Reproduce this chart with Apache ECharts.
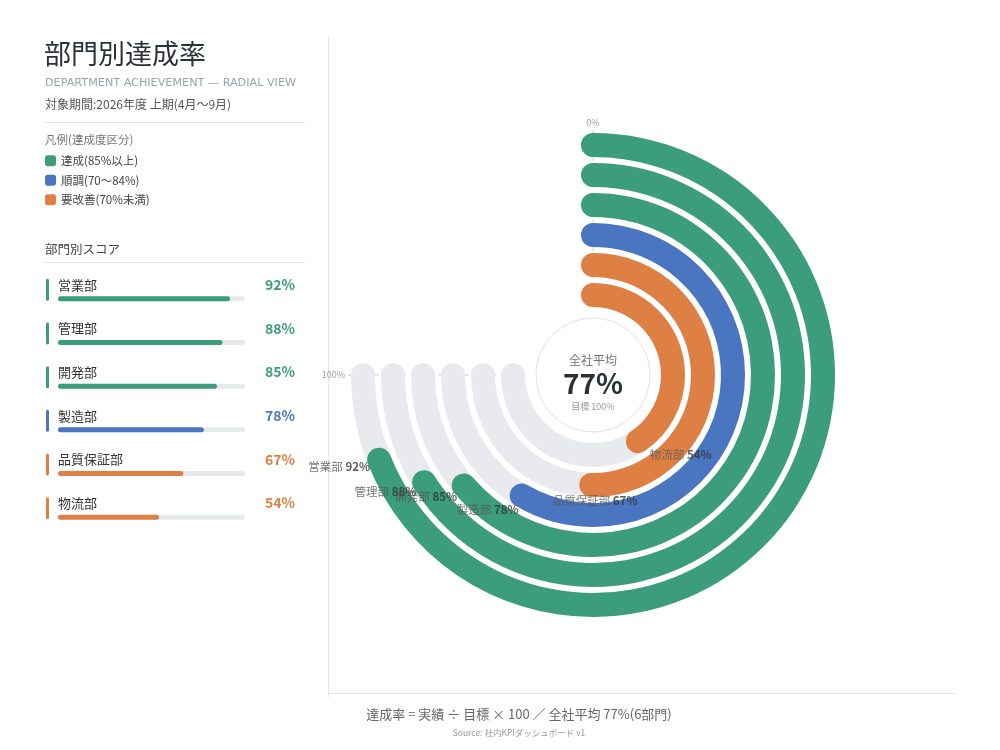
<!DOCTYPE html>
<html>
<head>
<meta charset="utf-8">
<script src="https://cdn.jsdelivr.net/npm/echarts@6/dist/echarts.min.js"></script>
<style>
html,body{margin:0;padding:0;background:#fff;}
#c{width:1000px;height:750px;}
</style>
</head>
<body>
<div id="c"></div>
<script>
// ---- data ----
const DEPTS = ['営業部', '管理部', '開発部', '製造部', '品質保証部', '物流部'];
const SCORES = [92, 88, 85, 78, 67, 54];
const TARGET = [100, 100, 100, 100, 100, 100];
const STATUS_NAMES = ['達成(85%以上)', '順調(70〜84%)', '要改善(70%未満)'];
const STATUS_MIN = [85, 70, 0];
const ANGLE_TICKS = [0, 100];

const COLORS = ['#3b9d7b', '#4a75c1', '#de8044'];
const TRACK = '#e8eaed';
const FONT = '"Noto Sans CJK JP", "Noto Sans", sans-serif';

function statusOf(v) { for (let k = 0; k < STATUS_MIN.length; k++) if (v >= STATUS_MIN[k]) return k; return 2; }
const avg = Math.round(SCORES.reduce((a, b) => a + b, 0) / SCORES.length);

const chart = echarts.init(document.getElementById('c'), null, { renderer: 'canvas' });

const CX = 593, CY = 375;
const ANGLE_MAX = 100 / 0.75;   // 100% spans 270 degrees

// label placed just outside the bar end, pushed outward along the radius
function endLabel(v) {
  const phi = v / ANGLE_MAX * 2 * Math.PI;    // clockwise from 12 o'clock
  const rx = Math.sin(phi), ry = -Math.cos(phi);
  const align = rx < -0.25 ? 'right' : (rx > 0.25 ? 'left' : 'center');
  return {
    show: true,
    position: [14 * rx + 4, 15 * ry + 1],
    align: align,
    verticalAlign: 'middle'
  };
}

const statusSeries = STATUS_NAMES.map((nm, k) => ({
  name: nm,
  type: 'bar',
  coordinateSystem: 'polar',
  polarIndex: 0,
  roundCap: true,
  barGap: '-100%',
  barCategoryGap: '20%',
  itemStyle: { color: COLORS[k] },
  z: 3,
  data: SCORES.map((v, i) => statusOf(v) === k ? v : '-')
}));

const option = {
  backgroundColor: '#ffffff',
  textStyle: { fontFamily: FONT },
  animation: false,
  legend: {
    data: STATUS_NAMES,
    orient: 'vertical',
    left: 40,
    top: 150,
    itemWidth: 11,
    itemHeight: 11,
    itemGap: 8,
    icon: 'roundRect',
    selectedMode: false,
    textStyle: { fontSize: 11.5, color: '#444', fontFamily: FONT }
  },
  polar: { center: [CX, CY], radius: [65, 245] },
  angleAxis: {
    type: 'value',
    min: 0,
    max: ANGLE_MAX,
    interval: 100,
    startAngle: 90,
    clockwise: true,
    axisLine: { show: false },
    axisTick: { show: false },
    axisLabel: {
      margin: 3,
      color: '#9aa2ad',
      fontSize: 9,
      formatter: v => ANGLE_TICKS.indexOf(Math.round(v)) >= 0 && Math.abs(v - Math.round(v)) < 1e-6 ? v + '%' : ''
    },
    splitLine: { show: true, lineStyle: { color: '#c9ced5', type: [4, 5], width: 1 } }
  },
  radiusAxis: {
    type: 'category',
    data: DEPTS,
    inverse: true,
    axisLine: { show: false },
    axisTick: { show: false },
    axisLabel: { show: false },
    splitLine: { show: false }
  },
  grid: { left: 58, top: 277, width: 187, height: 262 },
  xAxis: { type: 'value', min: 0, max: 100, show: false, gridIndex: 0 },
  yAxis: {
    type: 'category',
    data: DEPTS,
    inverse: true,
    gridIndex: 0,
    axisLine: { show: false },
    axisTick: { show: false },
    splitLine: { show: false },
    axisLabel: {
      margin: 9,
      formatter: (v, i) => '{s' + statusOf(SCORES[i]) + '|}',
      rich: {
        s0: { width: 3, height: 22, backgroundColor: COLORS[0], borderRadius: 1.5 },
        s1: { width: 3, height: 22, backgroundColor: COLORS[1], borderRadius: 1.5 },
        s2: { width: 3, height: 22, backgroundColor: COLORS[2], borderRadius: 1.5 }
      },
      padding: [0, 0, 18, 0]
    }
  },
  series: [
    {
      name: '目標',
      type: 'bar',
      coordinateSystem: 'polar',
      roundCap: true,
      barGap: '-100%',
      barCategoryGap: '20%',
      silent: true,
      itemStyle: { color: TRACK },
      z: 2,
      data: TARGET
    },
    ...statusSeries,
    {
      name: 'labels',
      type: 'scatter',
      coordinateSystem: 'polar',
      symbolSize: 0,
      silent: true,
      z: 6,
      label: {
        show: true,
        formatter: p => '{n|' + p.name + '} {v|' + p.value[1] + '%}',
        rich: {
          n: { fontSize: 11.5, color: '#555', fontFamily: FONT },
          v: { fontSize: 11.5, color: '#333', fontWeight: 'bold', fontFamily: FONT }
        }
      },
      data: DEPTS.map((d, i) => ({ name: d, value: [d, SCORES[i]], label: endLabel(SCORES[i]) }))
    },
    {
      name: 'track',
      type: 'bar',
      xAxisIndex: 0,
      yAxisIndex: 0,
      barWidth: 5,
      barGap: '-100%',
      silent: true,
      itemStyle: { color: '#e6e9ed', borderRadius: 3 },
      label: {
        show: true,
        position: [237, -11.5],
        align: 'right',
        verticalAlign: 'middle',
        formatter: p => '{s' + statusOf(SCORES[p.dataIndex]) + '|' + SCORES[p.dataIndex] + '%}',
        rich: {
          s0: { color: COLORS[0], fontSize: 14, fontWeight: 'bold', fontFamily: FONT },
          s1: { color: COLORS[1], fontSize: 14, fontWeight: 'bold', fontFamily: FONT },
          s2: { color: COLORS[2], fontSize: 14, fontWeight: 'bold', fontFamily: FONT }
        }
      },
      data: TARGET
    },
    {
      name: 'score',
      type: 'bar',
      xAxisIndex: 0,
      yAxisIndex: 0,
      barWidth: 5,
      barGap: '-100%',
      silent: true,
      itemStyle: { borderRadius: 3, color: p => COLORS[statusOf(p.value)] },
      label: {
        show: true,
        position: [0, -11.5],
        align: 'left',
        verticalAlign: 'middle',
        formatter: p => p.name,
        fontSize: 13,
        color: '#333',
        fontFamily: FONT
      },
      data: SCORES
    }
  ],
  graphic: [
    { type: 'text', left: 44, top: 40, style: { text: '部門別達成率', fontSize: 27, fill: '#2b313b', fontFamily: FONT } },
    { type: 'text', left: 45, top: 78, style: { text: 'DEPARTMENT ACHIEVEMENT — RADIAL VIEW', fontSize: 11.2, fill: '#9ba3ae', fontFamily: '"DejaVu Sans", sans-serif' } },
    { type: 'text', left: 45, top: 98, style: { text: '対象期間:2026年度 上期(4月〜9月)', fontSize: 12, fill: '#555', fontFamily: FONT } },
    { type: 'line', shape: { x1: 45, y1: 122.5, x2: 305, y2: 122.5 }, style: { stroke: '#e0e2e6', lineWidth: 1 } },
    { type: 'text', left: 45, top: 134, style: { text: '凡例(達成度区分)', fontSize: 11.5, fill: '#777', fontFamily: FONT } },
    { type: 'text', left: 45, top: 243, style: { text: '部門別スコア', fontSize: 12.5, fill: '#444', fontFamily: FONT } },
    { type: 'line', shape: { x1: 45, y1: 262.5, x2: 305, y2: 262.5 }, style: { stroke: '#e0e2e6', lineWidth: 1 } },
    { type: 'line', shape: { x1: 328.5, y1: 36, x2: 328.5, y2: 697 }, style: { stroke: '#e3e5e8', lineWidth: 1 } },
    { type: 'line', shape: { x1: 329, y1: 693.5, x2: 955, y2: 693.5 }, style: { stroke: '#e3e5e8', lineWidth: 1 } },
    { type: 'circle', shape: { cx: CX, cy: CY, r: 57 }, style: { fill: '#fff', stroke: '#dfe2e6', lineWidth: 1 }, z: 10 },
    { type: 'text', x: CX, y: 360, z: 11, style: { text: '全社平均', fontSize: 12, fill: '#777', align: 'center', verticalAlign: 'middle', fontFamily: FONT } },
    { type: 'text', x: CX, y: 383, z: 11, style: { text: avg + '%', fontSize: 28, fontWeight: 'bold', fill: '#2b2f36', align: 'center', verticalAlign: 'middle', fontFamily: FONT } },
    { type: 'text', x: CX, y: 407, z: 11, style: { text: '目標 100%', fontSize: 9, fill: '#999', align: 'center', verticalAlign: 'middle', fontFamily: FONT } },
    { type: 'text', x: 519, y: 714, style: { text: '達成率 = 実績 ÷ 目標 × 100 ／ 全社平均 ' + avg + '%(' + DEPTS.length + '部門)', fontSize: 13, fill: '#666', align: 'center', verticalAlign: 'middle', fontFamily: FONT } },
    { type: 'text', x: 519, y: 733, style: { text: 'Source: 社内KPIダッシュボード v1', fontSize: 8.5, fill: '#999', align: 'center', verticalAlign: 'middle', fontFamily: FONT } }
  ]
};

chart.setOption(option);
</script>
</body>
</html>
